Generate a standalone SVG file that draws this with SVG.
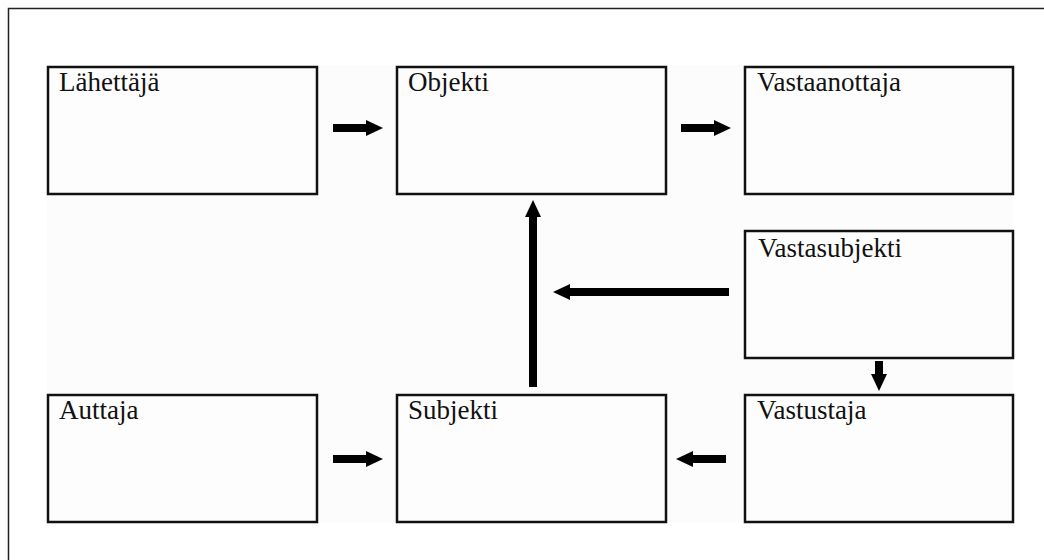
<svg xmlns="http://www.w3.org/2000/svg" width="1044" height="560" viewBox="0 0 1044 560">
  <style>
    .box { fill: #fdfdfd; stroke: #111; stroke-width: 2.5; }
    .lbl { font-family: "Liberation Serif", "Times New Roman", serif; font-size: 27px; fill: #111; }
    .conn { stroke: #000; stroke-width: 8; fill: none; marker-end: url(#head); }
  </style>
  <defs>
    <marker id="head" markerUnits="userSpaceOnUse" markerWidth="18" markerHeight="16" refX="1" refY="8" orient="auto">
      <path d="M0,0 L17,8 L0,16 Z" fill="#000"/>
    </marker>
  </defs>
  <rect x="0" y="0" width="1044" height="560" fill="#ffffff"/>
  <path d="M8.5,560 L8.5,8.5 L1044,8.5" fill="none" stroke="#222" stroke-width="1.5"/>
  <rect x="47" y="65" width="966" height="458" fill="#fcfcfc"/>

  <g id="node-lahettaja">
    <rect class="box" x="48" y="67" width="269" height="127"/>
    <text class="lbl" x="59" y="91">Lähettäjä</text>
  </g>
  <g id="node-objekti">
    <rect class="box" x="397" y="67" width="269" height="127"/>
    <text class="lbl" x="408" y="91">Objekti</text>
  </g>
  <g id="node-vastaanottaja">
    <rect class="box" x="745" y="67" width="268" height="127"/>
    <text class="lbl" x="757" y="91">Vastaanottaja</text>
  </g>
  <g id="node-vastasubjekti">
    <rect class="box" x="745" y="231" width="268" height="127"/>
    <text class="lbl" x="758" y="257">Vastasubjekti</text>
  </g>
  <g id="node-auttaja">
    <rect class="box" x="48" y="395" width="269" height="127"/>
    <text class="lbl" x="59" y="419">Auttaja</text>
  </g>
  <g id="node-subjekti">
    <rect class="box" x="397" y="395" width="269" height="127"/>
    <text class="lbl" x="408" y="419">Subjekti</text>
  </g>
  <g id="node-vastustaja">
    <rect class="box" x="745" y="395" width="268" height="127"/>
    <text class="lbl" x="757" y="419">Vastustaja</text>
  </g>

  <g id="connectors">
    <line class="conn" x1="333" y1="128" x2="367" y2="128"/>
    <line class="conn" x1="681" y1="128" x2="715" y2="128"/>
    <line class="conn" x1="333" y1="459" x2="367" y2="459"/>
    <line class="conn" x1="726" y1="459" x2="692" y2="459"/>
    <line class="conn" x1="533" y1="387" x2="533" y2="216"/>
    <line class="conn" x1="729" y1="292" x2="569" y2="292"/>
    <line class="conn" x1="879" y1="361" x2="879" y2="375"/>
  </g>
</svg>
